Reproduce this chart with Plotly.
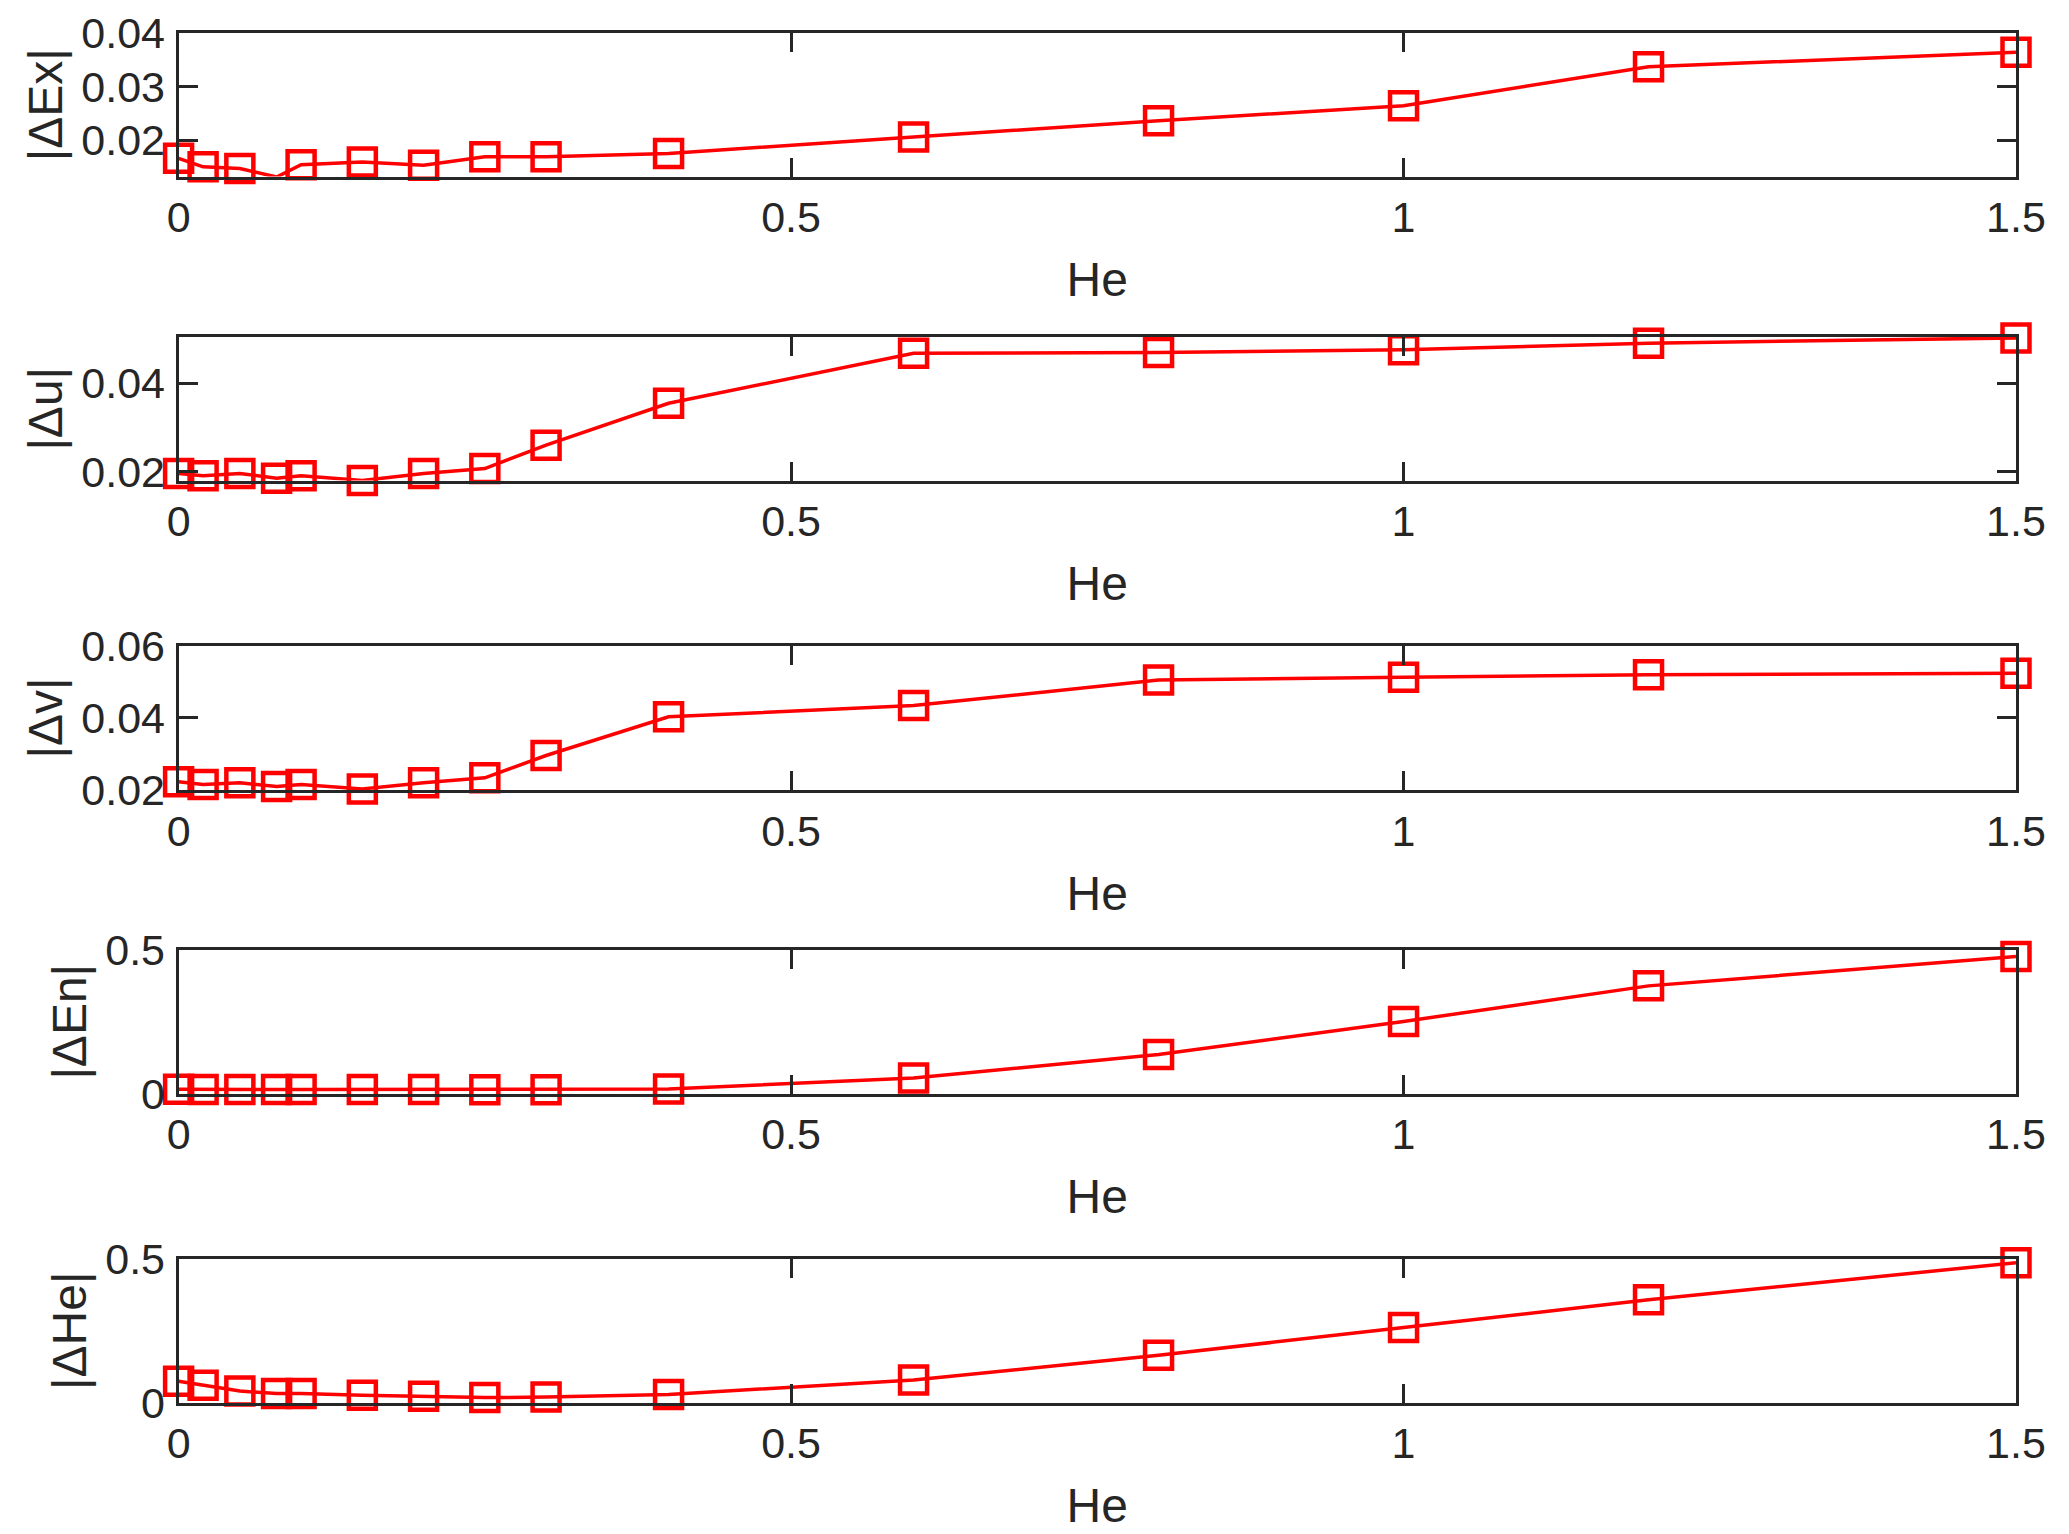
import plotly.graph_objects as go

he = [0, 0.02, 0.05, 0.08, 0.1, 0.15, 0.2, 0.25, 0.3, 0.4, 0.6, 0.8, 1.0, 1.2, 1.5]

d_ex = [0.0166, 0.0150, 0.0147, 0.0131, 0.0154, 0.0159, 0.0153, 0.0169, 0.0169, 0.0175,
        0.0206, 0.0236, 0.0264, 0.0337, 0.0364]
d_u = [0.0196, 0.0191, 0.0196, 0.0185, 0.0191, 0.0180, 0.0196, 0.0207, 0.0260, 0.0355,
       0.0468, 0.0470, 0.0476, 0.0491, 0.0503]
d_v = [0.0222, 0.0214, 0.0219, 0.0209, 0.0214, 0.0202, 0.0219, 0.0233, 0.0295, 0.0403,
       0.0434, 0.0505, 0.0513, 0.0520, 0.0524]
d_en = [0.015, 0.014, 0.014, 0.014, 0.014, 0.014, 0.014, 0.013, 0.0135, 0.016,
        0.054, 0.136, 0.251, 0.375, 0.477]
d_he = [0.074, 0.060, 0.040, 0.031, 0.031, 0.025, 0.022, 0.017, 0.019, 0.028,
        0.078, 0.165, 0.261, 0.358, 0.487]

series = [d_ex, d_u, d_v, d_en, d_he]
ylabels = ["|ΔEx|", "|Δu|", "|Δv|", "|ΔEn|", "|ΔHe|"]
yranges = [[0.0132, 0.040], [0.0180, 0.0505], [0.0199, 0.060], [0, 0.5], [0, 0.5]]
ytickvals = [[0.02, 0.03, 0.04], [0.02, 0.04], [0.02, 0.04, 0.06], [0, 0.5], [0, 0.5]]
yticktext = [["0.02", "0.03", "0.04"], ["0.02", "0.04"], ["0.02", "0.04", "0.06"], ["0", "0.5"], ["0", "0.5"]]
xtickvals = [0, 0.5, 1, 1.5]
xticktext = ["0", "0.5", "1", "1.5"]
xlabel = "He"

# page body has an 8px margin, so the figure is drawn offset by 8px
OFF = 8
W, H = 2069 - OFF, 1534 - OFF
# page-pixel positions (top, bottom) of each axes box
boxes = [(33, 176.5), (337, 480.5), (646, 790), (950, 1093.5), (1259, 1402.5)]
x_dom = [(178.6 - OFF) / W, (2016 - OFF) / W]

FONT = "Liberation Sans, Arial, sans-serif"
INK = "#262626"

fig = go.Figure()
layout = dict(
    width=W, height=H,
    margin=dict(l=0, r=0, t=0, b=0),
    paper_bgcolor="white", plot_bgcolor="white",
    showlegend=False,
    font=dict(family=FONT, size=43, color=INK),
)

for i, ys in enumerate(series):
    k = "" if i == 0 else str(i + 1)
    fig.add_trace(go.Scatter(
        x=he, y=ys, mode="lines+markers",
        line=dict(color="#ff0000", width=3.5),
        marker=dict(symbol="square-open", size=27, color="#ff0000",
                    line=dict(color="#ff0000", width=4.5)),
        cliponaxis=False,
        xaxis="x" + k, yaxis="y" + k,
    ))
    top, bot = boxes[i]
    top -= OFF
    bot -= OFF
    layout["xaxis" + k] = dict(
        domain=x_dom, anchor="y" + k, range=[0, 1.5],
        tickmode="array", tickvals=xtickvals, ticktext=xticktext,
        ticks="inside", ticklen=19, tickwidth=3, tickcolor=INK,
        showline=True, linecolor=INK, linewidth=3, mirror="ticks",
        showgrid=False, zeroline=False,
        tickfont=dict(family=FONT, size=43, color=INK),
        ticklabelstandoff=1,
        title=dict(text=xlabel, font=dict(family=FONT, size=48, color=INK), standoff=23),
        automargin=False,
    )
    layout["yaxis" + k] = dict(
        domain=[1 - bot / H, 1 - top / H], anchor="x" + k, range=yranges[i],
        tickmode="array", tickvals=ytickvals[i], ticktext=yticktext[i],
        ticks="inside", ticklen=19, tickwidth=3, tickcolor=INK,
        showline=True, linecolor=INK, linewidth=3, mirror="ticks",
        showgrid=False, zeroline=False,
        tickfont=dict(family=FONT, size=43, color=INK),
        ticklabelstandoff=2,
        title=dict(text=ylabels[i], font=dict(family=FONT, size=48, color=INK), standoff=4),
        automargin=False,
    )

fig.update_layout(**layout)
fig.write_html("out.html")
